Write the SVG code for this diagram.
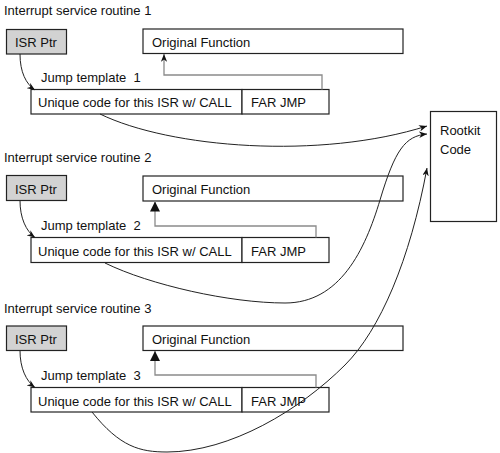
<svg xmlns="http://www.w3.org/2000/svg" width="500" height="453" viewBox="0 0 500 453">
<style>
text{font-family:"Liberation Sans",Arial,sans-serif;font-size:13px;fill:#111}
.box{fill:#fff;stroke:#222;stroke-width:1.2}
.ptr{fill:#d2d2d2;stroke:#222;stroke-width:1.2}
.gray{fill:none;stroke:#8a8a8a;stroke-width:1.3}
.curve{fill:none;stroke:#222;stroke-width:1}
</style>
<defs>
<marker id="arr" viewBox="0 0 10 8" refX="10" refY="4" markerWidth="8" markerHeight="6.4" markerUnits="userSpaceOnUse" orient="auto">
<path d="M0,0 L10,4 L0,8 L3,4 z" fill="#111"/>
</marker>
<marker id="tri" viewBox="0 0 10 10" refX="10" refY="5" markerWidth="10" markerHeight="10" markerUnits="userSpaceOnUse" orient="auto">
<path d="M0,0 L10,5 L0,10 z" fill="#111"/>
</marker>
</defs>

<g id="section1">
<text x="4" y="15">Interrupt service routine 1</text>
<g id="isrptr1"><rect class="ptr" x="6.5" y="29.5" width="60" height="24.5"/><text x="15" y="47">ISR Ptr</text></g>
<g id="orig1"><rect class="box" x="143" y="29" width="260" height="24.5"/><text x="152" y="47">Original Function</text></g>
<text x="41" y="82" xml:space="preserve">Jump template  1</text>
<g id="jump1"><rect class="box" x="31" y="89.5" width="211" height="24.5"/><text x="38" y="107">Unique code for this ISR w/ CALL</text>
<rect class="box" x="242" y="89.5" width="87" height="24.5"/><text x="251" y="107">FAR JMP</text></g>
</g>

<g id="section2">
<text x="4" y="162">Interrupt service routine 2</text>
<g id="isrptr2"><rect class="ptr" x="6.5" y="175.5" width="60" height="25"/><text x="15" y="193.5">ISR Ptr</text></g>
<g id="orig2"><rect class="box" x="143" y="176" width="260" height="25"/><text x="152" y="194">Original Function</text></g>
<text x="41" y="230" xml:space="preserve">Jump template  2</text>
<g id="jump2"><rect class="box" x="31" y="237.5" width="211" height="25"/><text x="38" y="255.5">Unique code for this ISR w/ CALL</text>
<rect class="box" x="242" y="237.5" width="87" height="25"/><text x="251" y="255.5">FAR JMP</text></g>
</g>

<g id="section3">
<text x="4" y="313">Interrupt service routine 3</text>
<g id="isrptr3"><rect class="ptr" x="6.5" y="326" width="60" height="24.5"/><text x="15" y="344">ISR Ptr</text></g>
<g id="orig3"><rect class="box" x="143" y="326" width="260" height="24.5"/><text x="152" y="344">Original Function</text></g>
<text x="41" y="380" xml:space="preserve">Jump template  3</text>
<g id="jump3"><rect class="box" x="31" y="387.5" width="211" height="24.5"/><text x="38" y="405.5">Unique code for this ISR w/ CALL</text>
<rect class="box" x="242" y="387.5" width="87" height="24.5"/><text x="251" y="405.5">FAR JMP</text></g>
</g>

<g id="rootkit">
<rect class="box" x="430.5" y="111.5" width="66" height="110"/>
<text x="440" y="135">Rootkit</text>
<text x="440" y="154">Code</text>
</g>

<g id="connectors">
<path class="curve" d="M20,54 C20,72 26,84 35,90" marker-end="url(#arr)"/>
<path class="curve" d="M20,200.5 C20,218 26,231 35,237.5" marker-end="url(#arr)"/>
<path class="curve" d="M20,350.5 C20,368 26,381 35,387.5" marker-end="url(#arr)"/>

<path class="gray" d="M322,89.5 V75 H164 V54" marker-end="url(#arr)"/>
<path class="gray" d="M316,237.5 V226 H155 V201.5" marker-end="url(#tri)"/>
<path class="gray" d="M316,387.5 V375 H155 V351" marker-end="url(#tri)"/>

<path class="curve" d="M100,114 C170,148 320,160 427,126" marker-end="url(#arr)"/>
<path class="curve" d="M105,263 C150,285 230,303 285,303 C340,303 365,250 380,200 C395,150 405,136 427,134" marker-end="url(#arr)"/>
<path class="curve" d="M92,412 C120,447 140,452 167,452 C230,452 300,410 345,365 C380,330 410,260 427,168" marker-end="url(#arr)"/>
</g>
</svg>
